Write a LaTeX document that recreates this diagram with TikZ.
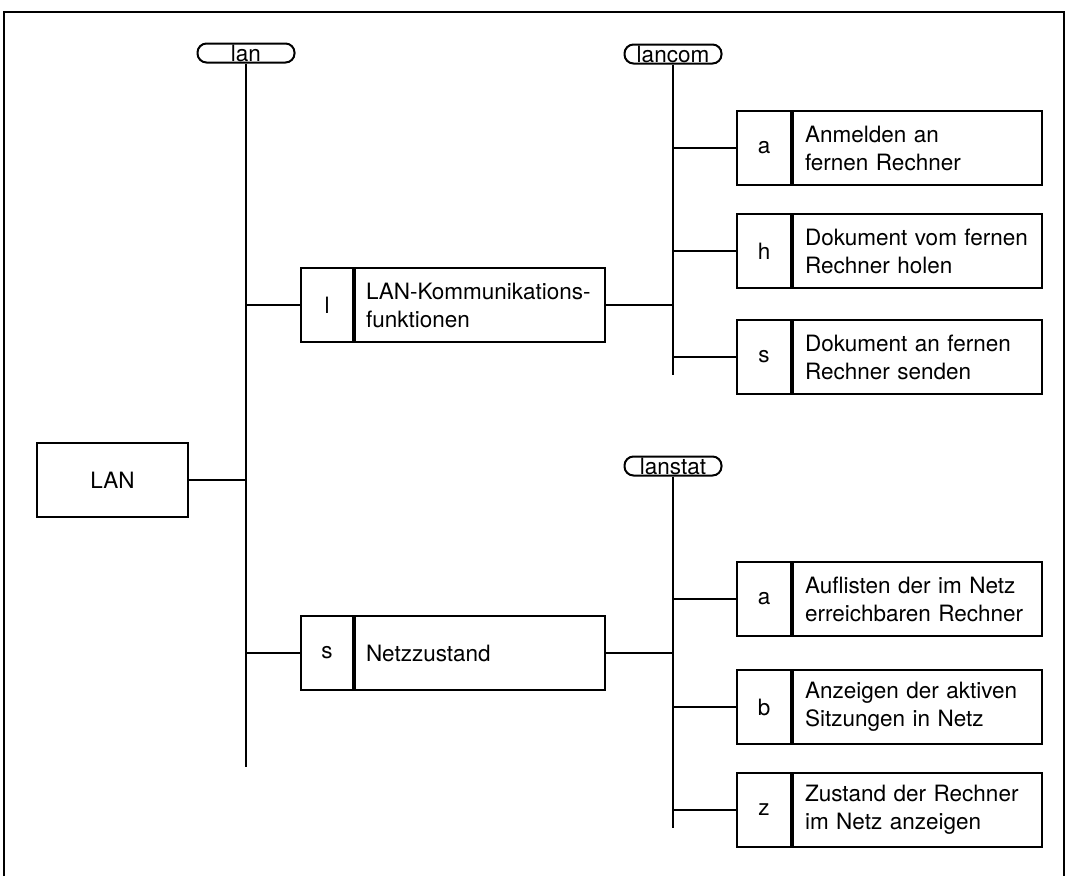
\documentclass[tikz,border=0pt]{standalone}
\usepackage{fontspec}
\setmainfont{TeX Gyre Heros}
\begin{document}
\begin{tikzpicture}[x=1pt,y=-1pt,
  every node/.style={font=\fontsize{22.5}{28}\selectfont},
  ln/.style={line width=2pt},
  pill/.style={draw, line width=2pt, rounded corners=9pt, minimum width=97pt, minimum height=19pt, inner sep=0pt},
  lettercell/.style={draw, line width=2pt, minimum width=54pt, minimum height=74pt, inner sep=0pt},
  textcell/.style={draw, line width=2pt, minimum height=74pt, inner xsep=0pt, align=left, anchor=west},
  subtext/.style={textcell, minimum width=249pt, text width=225pt},
  maintext/.style={textcell, minimum width=250pt, text width=228pt},
]
\useasboundingbox (0,0) rectangle (1071,876);
% frame
\draw[ln] (4,876) -- (4,12) -- (1064,12) -- (1064,876);

% root
\node[draw, line width=2pt, minimum width=151pt, minimum height=74pt] (LAN) at (112.5,480) {LAN};

% buses
\node[pill] (lan) at (246,53) {lan};
\coordinate (lanend) at (246,767);
\node[pill] (lancom) at (673,54) {lancom};
\coordinate (lancomend) at (673,375);
\node[pill] (lanstat) at (673,466) {lanstat};
\coordinate (lanstatend) at (673,828);
\draw[ln] (lan.south) -- (lanend);
\draw[ln] (lancom.south) -- (lancomend);
\draw[ln] (lanstat.south) -- (lanstatend);

% main boxes
\node[lettercell, minimum width=52pt] (ml) at (327,305) {l};
\node[maintext] (mlt) at (ml.east) {LAN-Kommunikations-\\funktionen};
\node[lettercell, minimum width=52pt] (ms) at (327,653) {s};
\node[maintext] (mst) at (ms.east) {Netzzustand};

% lancom children
\node[lettercell] (ca) at (764,148) {a};
\node[subtext] (cat) at (ca.east) {Anmelden an\\fernen Rechner};
\node[lettercell] (ch) at (764,251) {h};
\node[subtext] (cht) at (ch.east) {Dokument vom fernen\\Rechner holen};
\node[lettercell] (cs) at (764,357) {s};
\node[subtext] (cst) at (cs.east) {Dokument an fernen\\Rechner senden};

% lanstat children
\node[lettercell] (sa) at (764,599) {a};
\node[subtext] (sat) at (sa.east) {Auflisten der im Netz\\erreichbaren Rechner};
\node[lettercell] (sb) at (764,707) {b};
\node[subtext] (sbt) at (sb.east) {Anzeigen der aktiven\\Sitzungen in Netz};
\node[lettercell] (sz) at (764,810) {z};
\node[subtext] (szt) at (sz.east) {Zustand der Rechner\\im Netz anzeigen};

% connectors
\draw[ln] (LAN.east) -- (LAN.east -| lanend);
\draw[ln] (ml.west) -- (ml.west -| lanend);
\draw[ln] (ms.west) -- (ms.west -| lanend);
\draw[ln] (mlt.east) -- (mlt.east -| lancomend);
\draw[ln] (mst.east) -- (mst.east -| lanstatend);
\draw[ln] (ca.west) -- (ca.west -| lancomend);
\draw[ln] (ch.west) -- (ch.west -| lancomend);
\draw[ln] (cs.west) -- (cs.west -| lancomend);
\draw[ln] (sa.west) -- (sa.west -| lanstatend);
\draw[ln] (sb.west) -- (sb.west -| lanstatend);
\draw[ln] (sz.west) -- (sz.west -| lanstatend);
\end{tikzpicture}
\end{document}
